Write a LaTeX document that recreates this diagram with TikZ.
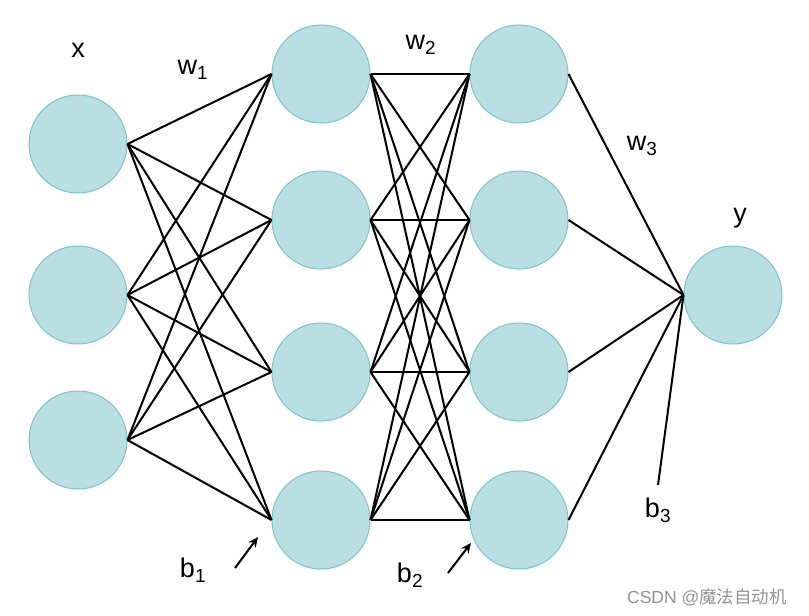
\documentclass[tikz,border=0pt]{standalone}
\usepackage{fontspec}
\setmainfont{Liberation Sans}
\newfontfamily\cjk{Noto Sans CJK SC}
\usetikzlibrary{arrows.meta}
\definecolor{cellfill}{RGB}{185,223,226}
\definecolor{celledge}{RGB}{124,194,199}

\begin{document}
\begin{tikzpicture}[x=1pt, y=-1pt,
  neuron/.style={circle, fill=cellfill, draw=celledge, line width=1pt, minimum size=98pt, inner sep=0pt},
  link/.style={line width=2pt},
  lbl/.style={font=\fontsize{27}{32}\selectfont, inner sep=0pt}]
\useasboundingbox (0,0) rectangle (809,616);

% Input layer
\node[neuron] (in1) at (78,144) {};
\node[neuron] (in2) at (78,295) {};
\node[neuron] (in3) at (78,440) {};

% Hidden layer 1
\node[neuron] (ha1) at (321,74) {};
\node[neuron] (ha2) at (321,220) {};
\node[neuron] (ha3) at (321,372) {};
\node[neuron] (ha4) at (321,520) {};

% Hidden layer 2
\node[neuron] (hb1) at (519,74) {};
\node[neuron] (hb2) at (519,220) {};
\node[neuron] (hb3) at (519,372) {};
\node[neuron] (hb4) at (519,520) {};

% Output
\node[neuron] (out) at (733,295) {};

% Weights
\foreach \i in {1,2,3}
  \foreach \j in {1,2,3,4}
    \draw[link] (in\i.east) -- (ha\j.west);
\foreach \i in {1,2,3,4}
  \foreach \j in {1,2,3,4}
    \draw[link] (ha\i.east) -- (hb\j.west);
\foreach \i in {1,2,3,4}
  \draw[link] (hb\i.east) -- (out.west);

% Biases
\coordinate (b3end) at (658,485);
\draw[link] (b3end) -- (out.west);
\coordinate (b1tail) at (235,568);
\coordinate (b1head) at (258,537);
\draw[link, -{Stealth[length=10pt, width=9pt]}] (b1tail) -- (b1head);
\coordinate (b2tail) at (448,573);
\coordinate (b2head) at (471,543);
\draw[link, -{Stealth[length=10pt, width=9pt]}] (b2tail) -- (b2head);

% Labels
\node[lbl] (xl) at (78,50) {x};
\node[lbl] (w1l) at (193,70) {w\textsubscript{1}};
\node[lbl] (w2l) at (421,45) {w\textsubscript{2}};
\node[lbl] (w3l) at (642,146) {w\textsubscript{3}};
\node[lbl] (yl) at (740,218) {y};
\node[lbl] (b1l) at (193,570) {b\textsubscript{1}};
\node[lbl] (b2l) at (410,575) {b\textsubscript{2}};
\node[lbl] (b3l) at (658,510) {b\textsubscript{3}};
\node[text=gray!85, font=\fontsize{17.5}{21}\selectfont] (mark) at (707,597) {CSDN @{\cjk 魔法自动机}};
\end{tikzpicture}
\end{document}
